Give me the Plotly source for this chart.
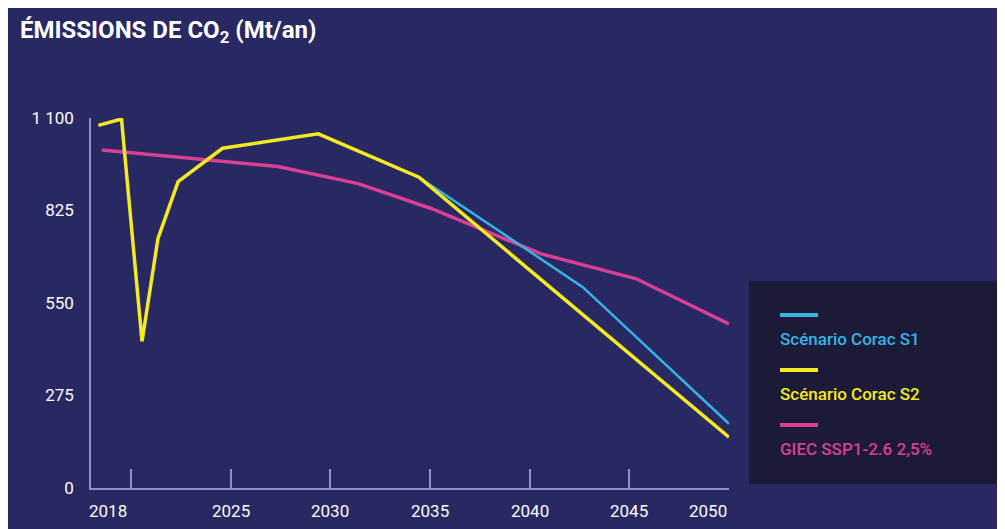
import plotly.graph_objects as go

# données (années fractionnaires = position réelle du point)
annees_s2 = [2018.37, 2019.53, 2020.56, 2021.36, 2022.37, 2024.6, 2029.4, 2034.45, 2050]
co2_s2 = [1078, 1097, 436, 742, 911, 1010, 1053, 924, 151]

annees_s1 = [2034.45, 2042.67, 2050]
co2_s1 = [924, 597, 191]

annees_giec = [2018.54, 2027.37, 2031.4, 2035.06, 2040.58, 2045.35, 2050]
co2_giec = [1005, 956, 905, 831, 696, 622, 488]

noms = ["Scénario Corac S1", "Scénario Corac S2", "GIEC SSP1-2.6 2,5%"]
couleurs = ["#36b4e6", "#f4e923", "#d93f92"]

x_ticks = [2020, 2025, 2030, 2035, 2040, 2045, 2050]
x_labels = [(2018, "2018"), (2025, "2025"), (2030, "2030"), (2035, "2035"),
            (2040, "2040"), (2045, "2045"), (2050, "2050")]
y_ticks = [0, 275, 550, 825, 1100]
y_labels = ["0", "275", "550", "825", "1 100"]

FOND = "#282862"
FOND_LEGENDE = "#1c1b37"
AXE = "#8f90c8"

W, H = 1005, 529
# positions mesurées à l'écran (la page ajoute une marge blanche)
OFF = 7
L, R, T, B = 90, 728, 117, 487


def px(x):
    return (x - L) / (R - L)


def py(y):
    return (B - y) / (B - T)


fig = go.Figure()
fig.add_trace(go.Scatter(x=annees_giec, y=co2_giec, mode="lines", name=noms[2],
                         line=dict(color=couleurs[2], width=3.5)))
fig.add_trace(go.Scatter(x=annees_s1, y=co2_s1, mode="lines", name=noms[0],
                         line=dict(color=couleurs[0], width=2.5)))
fig.add_trace(go.Scatter(x=annees_s2, y=co2_s2, mode="lines", name=noms[1],
                         line=dict(color=couleurs[1], width=3.5)))

annotations = [dict(
    text="<b>ÉMISSIONS DE CO<sub>2</sub> (Mt/an)</b>",
    xref="paper", yref="paper", x=px(17), y=py(31), xanchor="left", yanchor="middle",
    showarrow=False, font=dict(family="Roboto", size=24, color="white"))]

# étiquettes de l'axe x
for i, (an, lab) in enumerate(x_labels):
    if i == 0:
        anchor, shift = "left", -4
    elif i == len(x_labels) - 1:
        anchor, shift = "right", 0
    else:
        anchor, shift = "center", 0
    annotations.append(dict(text=lab, x=an, xref="x", y=py(510), yref="paper",
                            xanchor=anchor, yanchor="middle", xshift=shift,
                            showarrow=False,
                            font=dict(family="Roboto", size=17, color="white")))

shapes = [
    # cadre de légende
    dict(type="rect", xref="paper", yref="paper", x0=px(748), x1=px(996), y0=py(483), y1=py(280),
         fillcolor=FOND_LEGENDE, line=dict(width=0)),
]

# légende manuelle : trait au-dessus du texte
for k, i in enumerate([0, 1, 2]):
    y_trait = 314 + k * 55
    shapes.append(dict(type="line", xref="paper", yref="paper",
                       x0=px(779), x1=px(817), y0=py(y_trait), y1=py(y_trait),
                       line=dict(color=couleurs[i], width=4)))
    annotations.append(dict(text=noms[i], xref="paper", yref="paper",
                            x=px(777), y=py(y_trait + 24), xanchor="left", yanchor="middle",
                            showarrow=False,
                            font=dict(family="Roboto", size=17, weight=500, color=couleurs[i])))

fig.update_layout(
    width=W, height=H,
    margin=dict(l=L - OFF, r=W - (R - OFF), t=T - OFF, b=H - (B - OFF)),
    paper_bgcolor=FOND, plot_bgcolor=FOND,
    showlegend=False,
    xaxis=dict(range=[2018, 2050], showgrid=False, zeroline=False,
               showline=True, linecolor=AXE, linewidth=1.5,
               tickvals=x_ticks, ticks="inside", ticklen=19, tickwidth=1.5,
               tickcolor=AXE, showticklabels=False),
    yaxis=dict(range=[0, 1100], showgrid=False, zeroline=False,
               showline=True, linecolor=AXE, linewidth=1.5,
               tickvals=y_ticks, ticktext=y_labels, ticks="",
               ticklabelstandoff=12,
               tickfont=dict(family="Roboto", size=17, color="white")),
    annotations=annotations,
    shapes=shapes,
)

fig.write_html("out.html")
